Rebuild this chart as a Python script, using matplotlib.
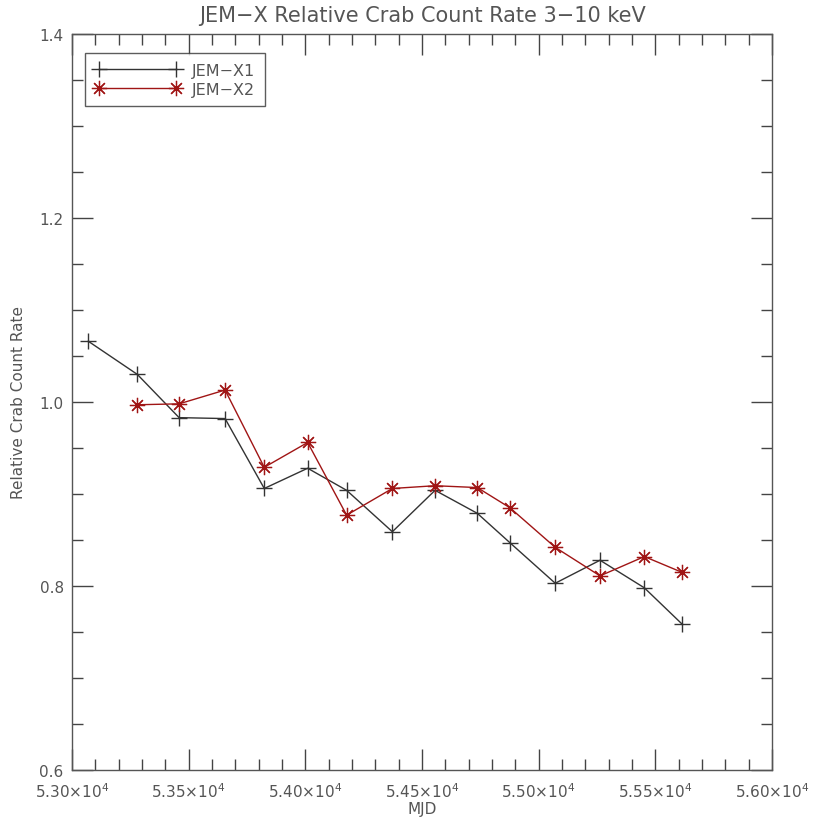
import matplotlib
matplotlib.use("Agg")
import matplotlib.pyplot as plt
from matplotlib.ticker import MultipleLocator, FuncFormatter

mjd_x1 = [53070, 53280, 53459, 53656, 53824, 54010, 54177, 54373, 54556, 54737, 54877, 55071, 55263, 55453, 55613]
rate_x1 = [1.066, 1.030, 0.983, 0.982, 0.906, 0.928, 0.904, 0.859, 0.904, 0.879, 0.847, 0.803, 0.828, 0.798, 0.759]
mjd_x2 = [53280, 53459, 53656, 53824, 54010, 54177, 54373, 54556, 54737, 54877, 55071, 55263, 55453, 55613]
rate_x2 = [0.997, 0.998, 1.013, 0.929, 0.956, 0.877, 0.906, 0.909, 0.907, 0.885, 0.842, 0.811, 0.832, 0.815]

title = "JEM\u2212X Relative Crab Count Rate 3\u221210 keV"
xlabel = "MJD"
ylabel = "Relative Crab Count Rate"
labels = ["JEM\u2212X1", "JEM\u2212X2"]

tc = "#555555"
fig = plt.figure(figsize=(8.14, 8.20), dpi=100)
ax = fig.add_axes([72/814, 49/820, 700/814, 736/820])

ax.plot(mjd_x1, rate_x1, color="#333333", lw=1.0, marker="+", ms=12, mew=1.0, label=labels[0])
ax.plot(mjd_x2, rate_x2, color="#a01515", lw=1.0, marker=(8, 2, 0), ms=11, mew=0.9, label=labels[1])

ax.set_xlim(53000, 56000)
ax.set_ylim(0.6, 1.4)
ax.xaxis.set_major_locator(MultipleLocator(500))
ax.xaxis.set_minor_locator(MultipleLocator(100))
ax.yaxis.set_major_locator(MultipleLocator(0.2))
ax.yaxis.set_minor_locator(MultipleLocator(0.05))
ax.xaxis.set_major_formatter(FuncFormatter(lambda v, p: f"{v/1e4:.2f}\u00d710$^{{4}}$"))
ax.yaxis.set_major_formatter(FuncFormatter(lambda v, p: f"{v:.1f}"))

ax.tick_params(which="both", direction="in", top=True, right=True, color="#444444",
               labelcolor=tc, labelsize=11)
ax.tick_params(which="major", length=15, width=1.0)
ax.tick_params(axis="x", which="major", pad=8)
ax.tick_params(axis="y", which="major", pad=6)
ax.tick_params(which="minor", length=8, width=1.0)
for s in ax.spines.values():
    s.set_color("#555555")
    s.set_linewidth(1.0)

ax.set_title(title, color=tc, fontsize=15, pad=9)
ax.set_xlabel(xlabel, color=tc, fontsize=11, labelpad=1)
ax.set_ylabel(ylabel, color=tc, fontsize=11, labelpad=10)

leg = ax.legend(loc="upper left", bbox_to_anchor=(13/700, 1 - 19/736), frameon=True,
                fancybox=False, edgecolor="#333333", fontsize=11.5, handlelength=5.4,
                borderpad=0.6, labelspacing=0.25, handletextpad=0.7, borderaxespad=0,
                numpoints=2)
leg.get_frame().set_linewidth(1.0)
for t in leg.get_texts():
    t.set_color(tc)

fig.savefig("out.png", dpi=100)
